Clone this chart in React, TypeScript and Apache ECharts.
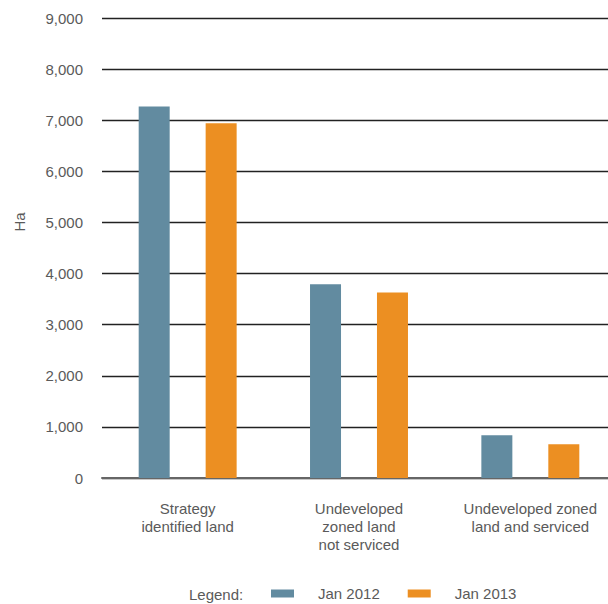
import React, { useEffect, useRef } from "react";
import * as echarts from "echarts";

const categories = [
  "Strategy\nidentified land",
  "Undeveloped\nzoned land\nnot serviced",
  "Undeveloped zoned\nland and serviced",
];
const seriesNames = ["Jan 2012", "Jan 2013"];
const jan2012 = [7270, 3790, 835];
const jan2013 = [6940, 3630, 660];
const colors = ["#628ba0", "#ec8f22"];
const FONT = "'Liberation Sans', Arial, Helvetica, sans-serif";
const TEXT = "#5a5a5a";

export default function App() {
  const ref = useRef<HTMLDivElement>(null);
  useEffect(() => {
    if (!ref.current) return;
    const chart = echarts.init(ref.current, null, { renderer: "svg" });
    chart.setOption({
      animation: false,
      backgroundColor: "#ffffff",
      textStyle: { fontFamily: FONT },
      grid: { left: 102, top: 18, right: 0, bottom: 126, containLabel: false },
      legend: {
        left: 271,
        top: 586,
        padding: 0,
        itemWidth: 23,
        itemHeight: 8,
        itemGap: 28,
        icon: "rect",
        data: seriesNames,
        textStyle: { fontFamily: FONT, fontSize: 15, color: TEXT, padding: [0, 0, 0, 19] },
      },
      graphic: [
        {
          type: "text",
          left: 189,
          top: 587,
          style: { text: "Legend:", fontFamily: FONT, fontSize: 15, fill: TEXT },
        },
        {
          type: "text",
          x: 19,
          y: 222,
          rotation: Math.PI / 2,
          style: {
            text: "Ha",
            fontFamily: FONT,
            fontSize: 15,
            fill: TEXT,
            align: "center",
            verticalAlign: "middle",
          },
        },
      ],
      xAxis: {
        type: "category",
        data: categories,
        axisLine: { show: true, lineStyle: { color: "#666", width: 2 } },
        axisTick: { show: false },
        axisLabel: {
          margin: 21,
          fontFamily: FONT,
          fontSize: 15,
          lineHeight: 18,
          color: TEXT,
          interval: 0,
        },
      },
      yAxis: {
        type: "value",
        min: 0,
        max: 9000,
        interval: 1000,
        axisLine: { show: false },
        axisTick: { show: false },
        splitLine: { show: true, lineStyle: { color: "#222", width: 1.4 } },
        axisLabel: {
          margin: 19,
          fontFamily: FONT,
          fontSize: 15,
          color: TEXT,
          formatter: (v: number) => v.toLocaleString("en-US"),
        },
      },
      series: [
        {
          name: seriesNames[0],
          type: "bar",
          data: jan2012,
          barWidth: 31,
          barGap: "116%",
          itemStyle: { color: colors[0] },
        },
        {
          name: seriesNames[1],
          type: "bar",
          data: jan2013,
          barWidth: 31,
          itemStyle: { color: colors[1] },
        },
      ],
    });
    return () => chart.dispose();
  }, []);
  return (
    <div style={{ position: "fixed", left: 0, top: 0, width: 608, height: 604, overflow: "hidden" }}>
      <div ref={ref} style={{ width: 616, height: 604 }} />
    </div>
  );
}
